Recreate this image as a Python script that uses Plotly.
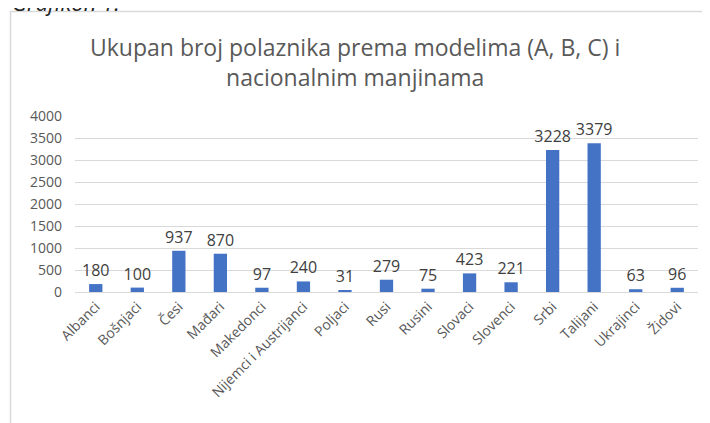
import plotly.graph_objects as go

categories = ["Albanci", "Bošnjaci", "Česi", "Mađari", "Makedonci", "Nijemci i Austrijanci",
              "Poljaci", "Rusi", "Rusini", "Slovaci", "Slovenci", "Srbi", "Talijani",
              "Ukrajinci", "Židovi"]
values = [180, 100, 937, 870, 97, 240, 31, 279, 75, 423, 221, 3228, 3379, 63, 96]
y_ticks = [0, 500, 1000, 1500, 2000, 2500, 3000, 3500, 4000]

FONT = "Open Sans"
GRAY = "#595959"

fig = go.Figure(go.Bar(
    x=categories, y=values,
    marker_color="#4472C4", marker_line_width=0,
    width=0.32,
    text=[str(v) for v in values], textposition="outside",
    textfont=dict(family=FONT, size=16, color="#404040"),
    constraintext="none", textangle=0,
    cliponaxis=False,
))

OFF = 8  # page offset of the figure (body margin)
W, H = 710, 423
# target page pixels: plot left 75, right 698, top 116, bottom 292
L = 75 - OFF
T = 116 - OFF
R = W - (698 - OFF)
B = H - (292 - OFF)
ph = H - T - B
pw = W - L - R

def py(p):  # page pixel y -> paper
    return (H - B - (p - OFF)) / ph

def px(p):  # page pixel x -> paper
    return ((p - OFF) - L) / pw

fig.update_layout(
    width=W, height=H,
    margin=dict(l=L, r=R, t=T, b=B, autoexpand=False),
    paper_bgcolor="white", plot_bgcolor="white",
    showlegend=False,
    font=dict(family=FONT, color=GRAY),
    xaxis=dict(tickangle=-45, tickfont=dict(size=14, color=GRAY), showgrid=False, automargin=False,
               showline=True, linecolor="#d9d9d9", linewidth=1, ticks=""),
    yaxis=dict(range=[0, 4000], tickvals=y_ticks, tickfont=dict(size=14, color=GRAY), automargin=False,
               showgrid=True, gridcolor="#d9d9d9", gridwidth=1, zeroline=False,
               showline=False, ticks="", ticklabelstandoff=12),
    annotations=[
        dict(text="Ukupan broj polaznika prema modelima (A, B, C) i<br>nacionalnim manjinama",
             xref="paper", yref="paper", x=px(355), y=py(61.5), xanchor="center", yanchor="middle",
             showarrow=False, font=dict(family=FONT, size=23, color=GRAY), align="center"),
        dict(text="<i>Grafikon 1.</i>", xref="paper", yref="paper", x=px(10), y=py(19),
             xanchor="left", yanchor="bottom", showarrow=False,
             font=dict(family=FONT, size=22, color="#222222")),
    ],
    shapes=[dict(type="rect", xref="paper", yref="paper", x0=px(10.5), x1=px(760), y0=py(480), y1=py(11.5),
                 line=dict(color="#d9d9d9", width=1.5), fillcolor="rgba(0,0,0,0)", layer="below")],
)

fig.write_html("out.html")
